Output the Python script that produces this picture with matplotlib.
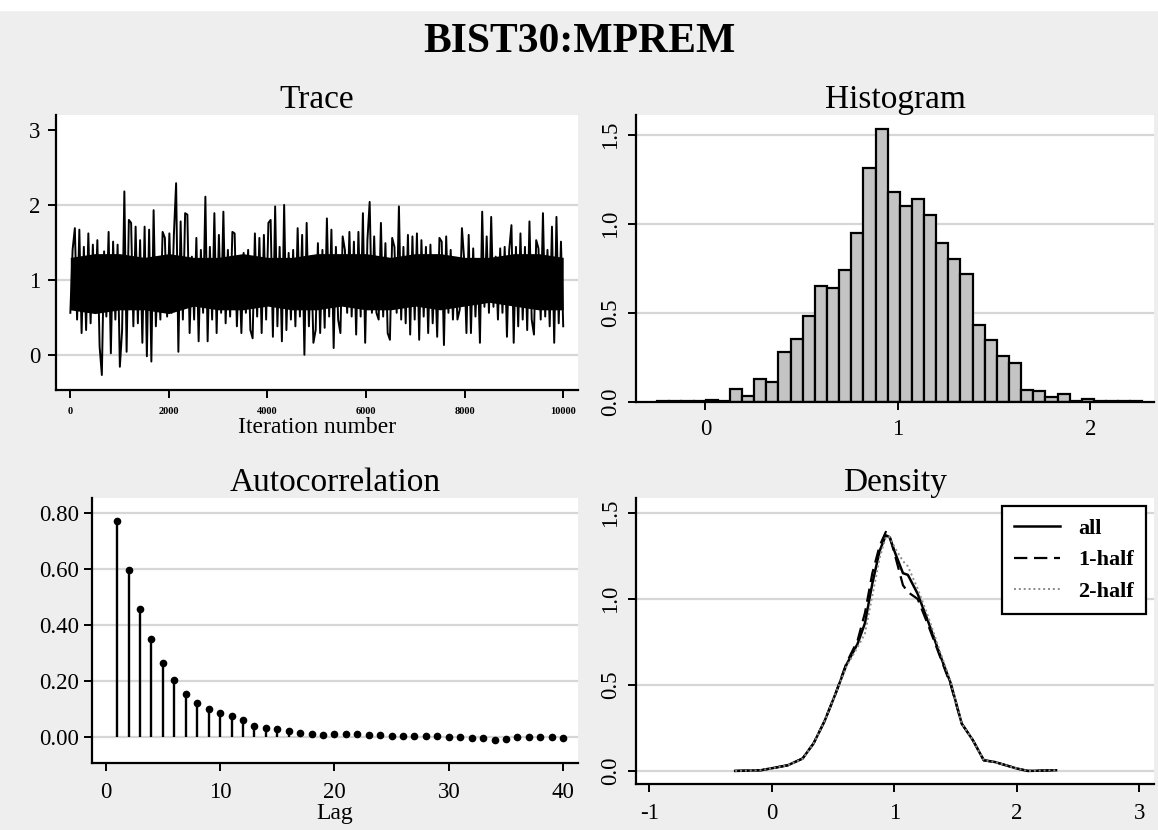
"""Recreate the BIST30:MPREM MCMC diagnostics panel."""

import matplotlib

matplotlib.use("Agg")
import matplotlib.pyplot as plt
import numpy as np
from matplotlib.patches import Rectangle


# Trace: peaks and troughs (iteration, value)
trace_peak_iter = [
    10, 75, 162, 244, 345, 446, 514, 582, 683, 784, 852, 987, 1055, 1122, 1224,
    1291, 1393, 1494, 1542, 1629, 1697, 1798, 1866, 1947, 2015, 2082, 2170, 2258, 2373,
    2441, 2576, 2677, 2745, 2833, 2914, 3015, 3083, 3184, 3286, 3387, 3488, 3556, 3657,
    3759, 3826, 3941, 3995, 4063, 4144, 4252, 4333, 4401, 4482, 4590, 4725, 4806,
    4942, 5043, 5145, 5232, 5327, 5435, 5516, 5584, 5652, 5733, 5854, 5922, 5990, 6091,
    6206, 6294, 6429, 6530, 6612, 6699, 6787, 6882, 6970, 7071, 7173, 7240, 7342, 7423,
    7477, 7578, 7680, 7781, 7903, 8018, 8119, 8220, 8288, 8369, 8457, 8558, 8660, 8761,
    8876, 8944, 9032, 9119, 9214, 9302, 9403, 9471, 9539, 9620, 9708, 9795, 9877, 9978,
]
trace_peak_val = [
    1.40, 1.69, 1.67, 1.44, 1.62, 1.47, 1.53, 1.38, 1.64, 1.51, 1.47, 2.18, 1.80, 1.76, 1.71,
    1.53, 1.71, 1.67, 1.93, 1.22, 1.64, 1.56, 1.62, 1.60, 2.29, 1.78, 1.89, 1.87, 1.31,
    1.56, 1.40, 2.11, 1.44, 1.89, 1.60, 1.91, 1.40, 1.64, 1.62, 1.22, 1.36, 1.40, 1.62,
    1.56, 1.60, 1.76, 1.80, 1.98, 1.44, 2.00, 1.36, 1.40, 1.69, 1.60, 1.76, 1.31,
    1.49, 1.40, 1.82, 1.67, 1.44, 1.58, 1.40, 1.64, 1.51, 1.64, 1.89, 1.53, 2.04, 1.58,
    1.76, 1.49, 1.56, 1.44, 1.98, 1.44, 1.60, 1.58, 1.62, 1.53, 1.44, 1.47, 1.18, 1.56,
    1.51, 1.58, 1.40, 1.22, 1.69, 1.27, 1.60, 1.42, 1.22, 1.91, 1.58, 1.84, 1.31, 1.42,
    1.44, 1.40, 1.73, 1.44, 1.62, 1.44, 1.78, 1.53, 1.42, 1.89, 1.40, 1.71, 1.84, 1.51,
]
trace_trough_iter = [
    7, 108, 176, 244, 345, 446, 514, 548, 615, 683, 784, 886, 953, 1041, 1122, 1258,
    1359, 1427, 1494, 1582, 1663, 1798, 1934, 2035, 2136, 2271, 2373,
    2474, 2576, 2697, 2779, 2880, 2948, 3049, 3150, 3286, 3387, 3488, 3590, 3624, 3725,
    3793, 3894, 3995, 4097, 4164, 4266, 4367, 4469, 4550, 4638, 4739, 4806, 4908,
    4962, 5043, 5145, 5246, 5327, 5415, 5516, 5618, 5719, 5821, 5908, 5990, 6091, 6179,
    6260, 6328, 6409, 6530, 6632, 6733, 6814, 6936, 7037, 7125, 7206, 7308, 7375,
    7497, 7612, 7680, 7781, 7882, 8018, 8119, 8220, 8288, 8389, 8491, 8592, 8694, 8795,
    8917, 9032, 9133, 9214, 9302, 9403, 9457, 9539, 9640, 9741, 9823, 9910, 9978,
]
trace_trough_val = [
    0.56, 0.47, 0.29, 0.33, 0.42, 0.58, 0.11, -0.27, 0.51, 0.02, 0.47, -0.16, 0.33, 0.04, 0.38, 0.42,
    0.16, -0.02, -0.09, 0.38, 0.47, 0.51, 0.56, 0.04, 0.47, 0.29, 0.47,
    0.18, 0.56, 0.18, 0.47, 0.29, 0.56, 0.42, 0.51, 0.38, 0.29, 0.56, 0.33, 0.22, 0.51,
    0.29, 0.47, 0.24, 0.38, 0.18, 0.33, 0.47, 0.38, 0.51, 0.00, 0.38, 0.16, 0.33,
    0.29, 0.36, 0.51, 0.09, 0.47, 0.29, 0.56, 0.51, 0.27, 0.51, 0.16, 0.56, 0.56, 0.47,
    0.51, 0.29, 0.20, 0.56, 0.47, 0.42, 0.27, 0.47, 0.20, 0.51, 0.29, 0.42, 0.24,
    0.13, 0.56, 0.47, 0.47, 0.60, 0.29, 0.29, 0.51, 0.16, 0.64, 0.56, 0.64, 0.47, 0.56,
    0.24, 0.16, 0.38, 0.47, 0.33, 0.47, 0.27, 0.47, 0.51, 0.38, 0.16, 0.42, 0.38,
]
# Solid core of the trace, where the 10000 draws overlap (every 500 iterations)
trace_core_iter = list(range(0, 10001, 500))
trace_core_upper = [
    1.30, 1.35, 1.35, 1.30, 1.35, 1.30, 1.30, 1.35, 1.30, 1.30, 1.35,
    1.35, 1.35, 1.30, 1.35, 1.35, 1.30, 1.30, 1.35, 1.35, 1.30,
]
trace_core_lower = [
    0.60, 0.55, 0.60, 0.60, 0.55, 0.65, 0.60, 0.60, 0.65, 0.60, 0.60,
    0.65, 0.60, 0.60, 0.65, 0.60, 0.65, 0.70, 0.65, 0.60, 0.60,
]

# Histogram: 40 bins, density heights
hist_start = -0.25
hist_width = 0.063
hist_heights = [
    0.004, 0.004, 0.004, 0.004, 0.012, 0.004, 0.073, 0.035, 0.13, 0.11,
    0.28, 0.354, 0.48, 0.65, 0.64, 0.74, 0.95, 1.31, 1.53, 1.18,
    1.10, 1.14, 1.05, 0.89, 0.80, 0.72, 0.43, 0.35, 0.26, 0.22,
    0.07, 0.06, 0.03, 0.047, 0.005, 0.017, 0.004, 0.004, 0.004, 0.004,
]

# Autocorrelation by lag
acf_lags = list(range(1, 41))
acf_values = [
    0.771, 0.596, 0.459, 0.350, 0.266, 0.204, 0.153, 0.121, 0.100, 0.085,
    0.074, 0.059, 0.040, 0.032, 0.028, 0.020, 0.014, 0.012, 0.006, 0.011,
    0.011, 0.012, 0.006, 0.006, 0.005, 0.005, 0.002, 0.002, 0.005, 0.000,
    0.000, -0.004, -0.005, -0.010, -0.006, -0.001, 0.001, 0.000, 0.000, -0.002,
]

# Kernel densities
density_x = [
    -0.30, -0.09, 0.01, 0.13, 0.25, 0.34, 0.43, 0.52, 0.61, 0.70, 0.76, 0.82, 0.88, 0.93,
    0.96, 1.01, 1.07, 1.11, 1.19, 1.28, 1.37, 1.46, 1.55, 1.64, 1.73, 1.82, 1.91, 2.00,
    2.09, 2.32,
]
density_all = [
    0.0, 0.004, 0.017, 0.033, 0.072, 0.16, 0.29, 0.45, 0.62, 0.74, 0.86, 1.09, 1.28, 1.37,
    1.36, 1.26, 1.15, 1.14, 1.03, 0.86, 0.68, 0.51, 0.275, 0.18, 0.062, 0.052, 0.033, 0.014,
    0.0, 0.004,
]
density_half1 = [
    0.0, 0.004, 0.017, 0.033, 0.072, 0.16, 0.29, 0.45, 0.63, 0.76, 0.92, 1.15, 1.31, 1.39,
    1.37, 1.24, 1.08, 1.04, 1.00, 0.84, 0.67, 0.50, 0.275, 0.18, 0.062, 0.052, 0.033, 0.014,
    0.0, 0.004,
]
density_half2 = [
    0.0, 0.004, 0.017, 0.033, 0.070, 0.16, 0.29, 0.45, 0.61, 0.72, 0.80, 1.02, 1.24, 1.36,
    1.36, 1.29, 1.22, 1.19, 1.06, 0.89, 0.70, 0.52, 0.275, 0.18, 0.062, 0.052, 0.033, 0.014,
    0.0, 0.004,
]

FIG_W, FIG_H = 1158, 830
BG = "#eeeeee"
GRID = "#d6d6d6"


def px_axes(fig, left, top, right, bottom):
    """Add axes given pixel edges measured from the top-left corner."""
    ax = fig.add_axes([left / FIG_W, 1 - bottom / FIG_H,
                       (right - left) / FIG_W, (bottom - top) / FIG_H])
    ax.set_facecolor("white")
    for side in ("top", "right"):
        ax.spines[side].set_visible(False)
    for side in ("left", "bottom"):
        ax.spines[side].set_linewidth(1.6)
    ax.tick_params(length=6, width=1.4, labelsize=16.5, pad=5)
    ax.set_axisbelow(True)
    return ax


def hgrid(ax, values):
    for v in values:
        ax.axhline(v, color=GRID, lw=1.6, zorder=0)


def plot_trace(fig):
    ax = px_axes(fig, 56, 115, 578, 390)
    iters = np.array(trace_peak_iter + trace_trough_iter)
    vals = np.array(trace_peak_val + trace_trough_val)
    order = np.argsort(iters, kind="stable")
    # evenly spaced draws, kept in the order they were read
    draws = np.linspace(1, 10000, len(order))
    hgrid(ax, [0, 1, 2])
    ax.fill_between(trace_core_iter, trace_core_lower, trace_core_upper,
                    color="black", lw=0)
    ax.plot(draws, vals[order], color="black", lw=1.4)
    ax.set_xlim(-290, 10300)
    ax.set_ylim(-0.47, 3.2)
    ax.set_yticks([0, 1, 2, 3])
    ax.set_xticks(range(0, 10001, 2000))
    ax.tick_params(axis="x", labelsize=7.5, pad=6)
    for lbl in ax.get_xticklabels():
        lbl.set_fontweight("bold")
    ax.set_xlabel("Iteration number", fontsize=17, labelpad=1)
    ax.set_title("Trace", fontsize=24, pad=5)


def plot_histogram(fig):
    ax = px_axes(fig, 636, 115, 1154, 402)
    hgrid(ax, [0.5, 1.0, 1.5])
    lefts = [hist_start + i * hist_width for i in range(len(hist_heights))]
    ax.bar(lefts, hist_heights, width=hist_width, align="edge",
           color="#c4c4c4", edgecolor="black", linewidth=1.6)
    ax.set_xlim(-0.36, 2.33)
    ax.set_ylim(0, 1.61)
    ax.set_xticks([0, 1, 2])
    ax.set_yticks([0.0, 0.5, 1.0, 1.5])
    ax.set_yticklabels(["0.0", "0.5", "1.0", "1.5"], rotation=90, va="center")
    ax.tick_params(axis="x", pad=6)
    ax.set_title("Histogram", fontsize=24, pad=5)


def plot_autocorrelation(fig):
    ax = px_axes(fig, 92, 498, 578, 763)
    hgrid(ax, [0.0, 0.2, 0.4, 0.6, 0.8])
    ax.vlines(acf_lags, 0, acf_values, color="black", lw=1.7)
    ax.plot(acf_lags, acf_values, "o", color="black", markersize=4.5)
    ax.set_xlim(-1.2, 41.3)
    ax.set_ylim(-0.093, 0.854)
    ax.set_xticks([0, 10, 20, 30, 40])
    ax.set_yticks([0.0, 0.2, 0.4, 0.6, 0.8])
    ax.set_yticklabels(["0.00", "0.20", "0.40", "0.60", "0.80"])
    ax.tick_params(axis="x", pad=8)
    ax.tick_params(axis="y", pad=3)
    ax.set_xlabel("Lag", fontsize=17, labelpad=0)
    ax.set_title("Autocorrelation", fontsize=24, pad=5)


def plot_density(fig):
    ax = px_axes(fig, 636, 498, 1154, 784)
    hgrid(ax, [0.0, 0.5, 1.0, 1.5])
    ax.plot(density_x, density_all, color="black", lw=1.8, label="all")
    ax.plot(density_x, density_half1, color="black", lw=1.6, ls=(0, (6, 3)), label="1-half")
    ax.plot(density_x, density_half2, color="#8a8a8a", lw=1.4, ls=(0, (1, 1.5)), label="2-half")
    ax.set_xlim(-1.11, 3.12)
    ax.set_ylim(-0.076, 1.587)
    ax.set_xticks([-1, 0, 1, 2, 3])
    ax.set_yticks([0.0, 0.5, 1.0, 1.5])
    ax.set_yticklabels(["0.0", "0.5", "1.0", "1.5"], rotation=90, va="center")
    ax.tick_params(axis="x", pad=8)
    ax.set_title("Density", fontsize=24, pad=5)
    leg = ax.legend(loc="upper right", fancybox=False, framealpha=1, edgecolor="black",
                    handlelength=2.1, handletextpad=0.8, labelspacing=0.5, borderpad=0.55,
                    borderaxespad=0,
                    prop={"family": "Liberation Serif", "weight": "bold", "size": 16},
                    bbox_to_anchor=(0.985, 0.972))
    leg.get_frame().set_linewidth(1.6)


def main():
    plt.rcParams["font.family"] = ["Liberation Serif", "DejaVu Serif"]
    plt.rcParams["axes.unicode_minus"] = False
    fig = plt.figure(figsize=(FIG_W / 100, FIG_H / 100), dpi=100, facecolor=BG)
    fig.patches.append(Rectangle((0, 1 - 10 / FIG_H), 1, 10 / FIG_H,
                                 transform=fig.transFigure, color="white", zorder=0))
    fig.text(0.5, 1 - 42 / FIG_H, "BIST30:MPREM", ha="center", va="center",
             fontsize=30, fontweight="bold")
    plot_trace(fig)
    plot_histogram(fig)
    plot_autocorrelation(fig)
    plot_density(fig)
    fig.savefig("out.png", dpi=100, facecolor=BG)
    plt.close(fig)


if __name__ == "__main__":
    main()
